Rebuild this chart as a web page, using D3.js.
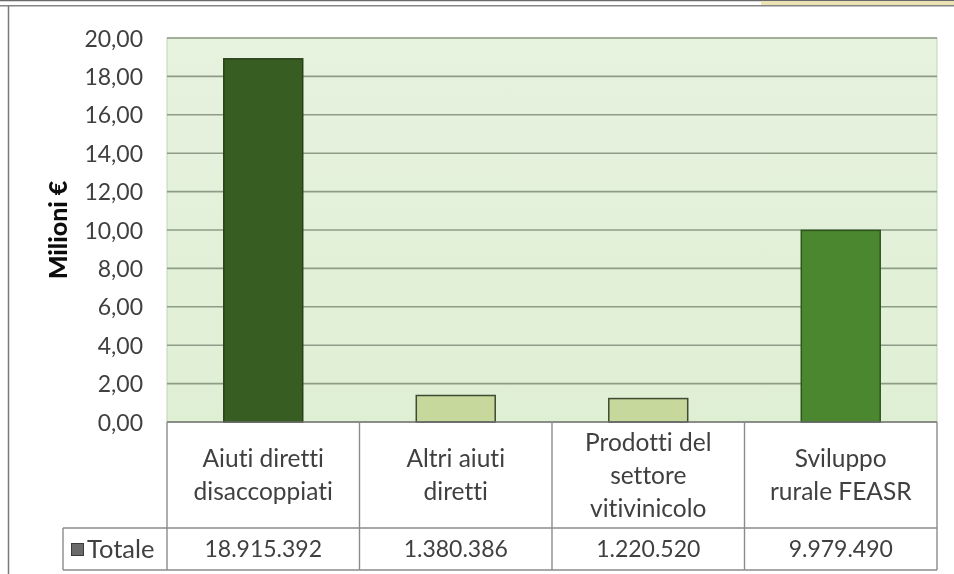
<!DOCTYPE html>
<html>
<head>
<meta charset="utf-8">
<script src="https://cdn.jsdelivr.net/npm/d3@7"></script>
<style>
  html, body { margin: 0; padding: 0; background: #ffffff; }
  svg { display: block; }
  text { font-family: Lato, "Open Sans", sans-serif; fill: #3f3f3f; font-variant-ligatures: none; }
</style>
</head>
<body>
<svg id="chart" width="954" height="574"></svg>
<script>
// Contributi PAC per tipologia (euro)
const categories = [
  ["Aiuti diretti", "disaccoppiati"],
  ["Altri aiuti", "diretti"],
  ["Prodotti del", "settore", "vitivinicolo"],
  ["Sviluppo", "rurale FEASR"]
];
const totals = [18915392, 1380386, 1220520, 9979490];
const yTicks = [0, 2, 4, 6, 8, 10, 12, 14, 16, 18, 20];
const seriesName = "Totale";
const yTitle = "Milioni €";

const barFills   = ["#395d22", "#c6d89c", "#c6d89c", "#4b872f"];
const barStrokes = ["#26401a", "#3f4a30", "#3f4a30", "#2d561c"];

const W = 954, H = 574;
const plot = { left: 167, right: 937, top: 38, bottom: 422 };
const table = { legendLeft: 63, rowTop: 528, bottom: 570 };

const svg = d3.select("#chart");
const fmtAxis = v => d3.format(".2f")(v).replace(".", ",");
const fmtVal = v => d3.format(",")(v).replace(/,/g, ".");

const defs = svg.append("defs");
defs.append("filter").attr("id", "soft")
  .append("feGaussianBlur").attr("stdDeviation", 0.45);

const root = svg.append("g").attr("filter", "url(#soft)");

root.append("rect").attr("width", W).attr("height", H).attr("fill", "#ffffff");

// outer frame
root.append("line").attr("x1", 0).attr("x2", W).attr("y1", 0.5).attr("y2", 0.5)
  .attr("stroke", "#6a6a6a").attr("stroke-width", 1.5);
root.append("rect").attr("x", 761).attr("y", 1).attr("width", W - 761).attr("height", 4.5)
  .attr("fill", "#ebe3b4");
root.append("line").attr("x1", 0).attr("x2", W).attr("y1", 5.8).attr("y2", 5.8)
  .attr("stroke", "#858585").attr("stroke-width", 1.5);
root.append("line").attr("x1", 8.5).attr("x2", 8.5).attr("y1", 6).attr("y2", H)
  .attr("stroke", "#7a7a7a").attr("stroke-width", 1.5);

// plot background
const grad = defs.append("linearGradient").attr("id", "plotBg")
  .attr("x1", 0).attr("y1", 0).attr("x2", 0).attr("y2", 1);
grad.append("stop").attr("offset", "0%").attr("stop-color", "#e7f2df");
grad.append("stop").attr("offset", "100%").attr("stop-color", "#dfefd4");

root.append("rect")
  .attr("x", plot.left).attr("y", plot.top)
  .attr("width", plot.right - plot.left).attr("height", plot.bottom - plot.top)
  .attr("fill", "url(#plotBg)")
  .attr("stroke", "#c3d3b9").attr("stroke-width", 1);

const x = d3.scaleBand()
  .domain(d3.range(categories.length))
  .range([plot.left, plot.right])
  .paddingInner(0.59).paddingOuter(0.295);

const y = d3.scaleLinear().domain([0, 20]).range([plot.bottom, plot.top]);

// gridlines
root.append("g").selectAll("line").data(yTicks.filter(t => t > 0)).join("line")
  .attr("x1", plot.left).attr("x2", plot.right)
  .attr("y1", d => y(d)).attr("y2", d => y(d))
  .attr("stroke", "#8d9c86").attr("stroke-width", 1.6);

// y axis labels
const yAxis = d3.axisLeft(y).tickValues(yTicks).tickFormat(fmtAxis).tickSize(0).tickPadding(0);
const gy = root.append("g").attr("transform", `translate(143,0)`).call(yAxis);
gy.select(".domain").remove();
gy.selectAll("text")
  .attr("font-size", 23).attr("font-family", "Lato, sans-serif")
  .attr("fill", "#3f3f3f").attr("dy", "0.35em");

// axis title
root.append("text")
  .attr("transform", `translate(58,230) rotate(-90)`)
  .attr("text-anchor", "middle").attr("dy", "0.35em")
  .attr("font-size", 25).attr("font-weight", 900).style("fill", "#111")
  .text(yTitle);

// bars
root.append("g").selectAll("rect").data(totals).join("rect")
  .attr("x", (d, i) => x(i))
  .attr("width", x.bandwidth())
  .attr("y", d => y(d / 1e6))
  .attr("height", d => plot.bottom - y(d / 1e6))
  .attr("fill", (d, i) => barFills[i])
  .attr("stroke", (d, i) => barStrokes[i])
  .attr("stroke-width", 1.5);

// data table
const colEdges = d3.range(categories.length + 1).map(i => plot.left + i * x.step());
const lineColor = "#8b8b8b";
const tg = root.append("g");
tg.append("line").attr("x1", plot.left).attr("x2", plot.right)
  .attr("y1", plot.bottom).attr("y2", plot.bottom)
  .attr("stroke", "#6f6f6f").attr("stroke-width", 1.6);
tg.selectAll(".vcol").data(colEdges).join("line").attr("class", "vcol")
  .attr("x1", d => d).attr("x2", d => d)
  .attr("y1", plot.bottom).attr("y2", table.bottom)
  .attr("stroke", lineColor).attr("stroke-width", 1.4);
[table.rowTop, table.bottom].forEach(yy => {
  tg.append("line").attr("x1", table.legendLeft).attr("x2", plot.right)
    .attr("y1", yy).attr("y2", yy)
    .attr("stroke", lineColor).attr("stroke-width", 1.4);
});
tg.append("line").attr("x1", table.legendLeft).attr("x2", table.legendLeft)
  .attr("y1", table.rowTop).attr("y2", table.bottom)
  .attr("stroke", lineColor).attr("stroke-width", 1.4);

// category labels
const lineGap = 33;
const catMid = (plot.bottom + table.rowTop) / 2;
categories.forEach((lines, i) => {
  const cx = x(i) + x.bandwidth() / 2;
  const t = root.append("text").attr("text-anchor", "middle").attr("font-size", 24.5);
  lines.forEach((ln, k) => {
    t.append("tspan").attr("x", cx)
      .attr("y", catMid + (k - (lines.length - 1) / 2) * lineGap)
      .attr("dy", "0.35em").text(ln);
  });
});

// values row
const valMid = (table.rowTop + table.bottom) / 2;
root.append("g").selectAll("text").data(totals).join("text")
  .attr("x", (d, i) => x(i) + x.bandwidth() / 2)
  .attr("y", valMid).attr("dy", "0.35em")
  .attr("text-anchor", "middle").attr("font-size", 23)
  .text(d => fmtVal(d));

// legend key + series name
root.append("rect").attr("x", 71.5).attr("y", 543.5).attr("width", 12).attr("height", 12)
  .attr("fill", "#6b6b6b").attr("stroke", "#3a3a3a").attr("stroke-width", 1);
root.append("text").attr("x", 87).attr("y", valMid).attr("dy", "0.35em")
  .attr("font-size", 25.5).text(seriesName);
</script>
</body>
</html>
